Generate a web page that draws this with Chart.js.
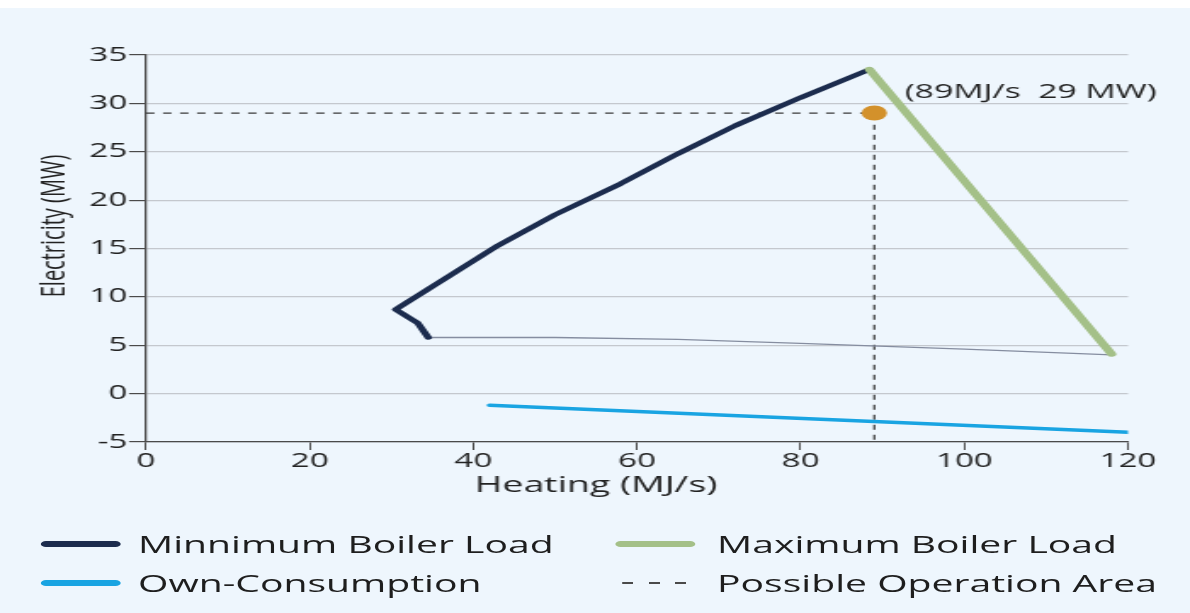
<!DOCTYPE html>
<html>
<head>
<meta charset="utf-8">
<script src="https://cdn.jsdelivr.net/npm/chart.js@4.4.1/dist/chart.umd.min.js"></script>
<style>
  html, body { margin: 0; padding: 0; }
  body {
    width: 1190px; height: 613px; overflow: hidden; position: relative;
    background: #eef6fd; font-family: "Open Sans", sans-serif;
  }
  #band { position: absolute; left: 0; top: 0; width: 1190px; height: 8px; background: #fff; }
  /* the whole figure is drawn narrow and widened horizontally */
  #stage { position: absolute; left: 0; top: 0; width: 700px; height: 613px;
           transform: scaleX(1.7); transform-origin: 0 0; }
  #plot { position: absolute; left: 0; top: 0; width: 700px; height: 510px; }
  .key { position: absolute; height: 30px; display: flex; align-items: center;
         font-size: 23px; color: #1e1e1e; white-space: nowrap; }
  .swatch { position: absolute; height: 6px; border-radius: 3px; }
  .dashes { position: absolute; height: 1.6px;
            background: repeating-linear-gradient(to right, #4a4a4a 0 6.5px, transparent 6.5px 15.6px); }
</style>
</head>
<body>
<div id="band"></div>
<div id="stage">
  <div id="plot"><canvas id="chart"></canvas></div>
  <div id="legend"></div>
</div>
<script>
// Heating (MJ/s) on x, electricity (MW) on y
const heatTicks = [0, 20, 40, 60, 80, 100, 120];
const elecTicks = [-5, 0, 5, 10, 15, 20, 25, 30, 35];

// minimum boiler load curve
const minLoadHeat = [34.5, 33.2, 30.5, 43, 50, 58, 65, 72, 80, 88.4];
const minLoadElec = [5.8, 7.3, 8.7, 15.3, 18.5, 21.7, 24.8, 27.7, 30.6, 33.5];

// maximum boiler load line
const maxLoadHeat = [88.4, 118];
const maxLoadElec = [33.5, 4.1];

// lower boundary of the operating region
const lowerHeat = [34.5, 50, 65, 80, 100, 118];
const lowerElec = [5.8, 5.8, 5.6, 5.2, 4.6, 4.0];

// own consumption
const ownHeat = [42, 120];
const ownElec = [-1.2, -4.0];

// operating point and its guide lines
const opHeat = 89;
const opElec = 29;
const guideHeat = [0, opHeat, opHeat];
const guideElec = [opElec, opElec, -5];

const seriesNames = ['Minnimum Boiler Load', 'Maximum Boiler Load', 'Own-Consumption', 'Possible Operation Area'];

const colors = {
  minLoad: '#1c2c4e',
  maxLoad: '#a4c088',
  own: '#19a4e2',
  lower: '#858da0',
  guide: '#3a3a3a',
  point: '#d3912b',
  grid: '#c4c8ce',
  axis: '#4a4a4a',
  text: '#222222'
};

const pts = (xs, ys) => xs.map((v, i) => ({ x: v, y: ys[i] }));

function buildLegend() {
  const legend = document.getElementById('legend');
  const items = [
    { name: seriesNames[0], color: colors.minLoad, line: [23.5, 47], text: 81.2, row: 544 },
    { name: seriesNames[1], color: colors.maxLoad, line: [361.8, 47], text: 421.8, row: 544 },
    { name: seriesNames[2], color: colors.own, line: [23.5, 47], text: 81.2, row: 583 },
    { name: seriesNames[3], color: null, line: [366, 37.7], text: 421.8, row: 583 }
  ];
  items.forEach(it => {
    const s = document.createElement('div');
    if (it.color) {
      s.className = 'swatch';
      s.style.background = it.color;
      s.style.top = (it.row - 3) + 'px';
    } else {
      s.className = 'dashes';
      s.style.top = (it.row - 0.8) + 'px';
    }
    s.style.left = it.line[0] + 'px';
    s.style.width = it.line[1] + 'px';
    legend.appendChild(s);
    const t = document.createElement('div');
    t.className = 'key';
    t.textContent = it.name;
    t.style.left = it.text + 'px';
    t.style.top = (it.row - 15) + 'px';
    legend.appendChild(t);
  });
}

const titlesPlugin = {
  id: 'titles',
  afterDatasetsDraw(chart) {
    const { ctx, scales: { x, y } } = chart;
    ctx.save();
    ctx.fillStyle = colors.text;
    ctx.textBaseline = 'middle';
    // operating point label
    ctx.font = '19.8px "Open Sans"';
    ctx.textAlign = 'left';
    ctx.fillText('(' + opHeat + 'MJ/s  ' + opElec + ' MW)',
                 x.getPixelForValue(opHeat) + 18, y.getPixelForValue(opElec) - 21);
    // x axis title
    ctx.font = '22px "Open Sans"';
    ctx.textAlign = 'center';
    ctx.fillText('Heating (MJ/s)', 350.6, 486);
    // y axis title
    ctx.translate(32, 226);
    ctx.rotate(-Math.PI / 2);
    ctx.font = '20px "Open Sans"';
    ctx.fillText('Electricity (MW)', 0, 0);
    ctx.restore();
  }
};

function draw() {
  buildLegend();
  const lineSet = (label, data, color, width, order) => ({
    label, data, showLine: true, borderColor: color, backgroundColor: color,
    borderWidth: width, pointRadius: 0, pointHoverRadius: 0,
    borderCapStyle: 'round', borderJoinStyle: 'round', tension: 0, order
  });

  new Chart(document.getElementById('chart'), {
    type: 'scatter',
    data: {
      datasets: [
        { label: 'Operating point', data: pts([opHeat], [opElec]), pointRadius: 7.5,
          pointHoverRadius: 7.5, backgroundColor: colors.point, borderWidth: 0, order: 0 },
        lineSet(seriesNames[1], pts(maxLoadHeat, maxLoadElec), colors.maxLoad, 5.5, 1),
        lineSet(seriesNames[0], pts(minLoadHeat, minLoadElec), colors.minLoad, 4.4, 2),
        lineSet('Lower boundary', pts(lowerHeat, lowerElec), colors.lower, 1.3, 3),
        lineSet(seriesNames[2], pts(ownHeat, ownElec), colors.own, 3.6, 4),
        Object.assign(lineSet(seriesNames[3], pts(guideHeat, guideElec), colors.guide, 1.2, 5),
                      { borderDash: [5, 5], borderCapStyle: 'butt' })
      ]
    },
    options: {
      responsive: true,
      maintainAspectRatio: false,
      animation: false,
      events: [],
      layout: { padding: { left: 0, right: 36.5, top: 55, bottom: 0 } },
      plugins: { legend: { display: false }, tooltip: { enabled: false } },
      scales: {
        x: {
          type: 'linear', min: heatTicks[0], max: heatTicks[heatTicks.length - 1],
          afterBuildTicks: s => { s.ticks = heatTicks.map(v => ({ value: v })); },
          afterFit: s => { s.height = 68; },
          grid: { drawOnChartArea: false, drawTicks: true, tickLength: 8,
                  tickColor: colors.axis, tickWidth: 1 },
          border: { color: colors.axis, width: 1.3 },
          ticks: { color: colors.text, padding: 0, maxRotation: 0,
                   font: { family: 'Open Sans', size: 19.5 } }
        },
        y: {
          type: 'linear', min: elecTicks[0], max: elecTicks[elecTicks.length - 1],
          afterBuildTicks: s => { s.ticks = elecTicks.map(v => ({ value: v })); },
          afterFit: s => { s.width = 85.9; },
          grid: { color: colors.grid, lineWidth: 1.2, drawTicks: true, tickLength: 10,
                  tickColor: colors.axis, tickWidth: 1.2 },
          border: { color: colors.axis, width: 1.3 },
          ticks: { color: colors.text, padding: 1,
                   font: { family: 'Open Sans', size: 19.5 } }
        }
      }
    },
    plugins: [titlesPlugin]
  });
}

if (document.fonts && document.fonts.load) {
  document.fonts.load('19px "Open Sans"').then(draw, draw);
} else {
  draw();
}
</script>
</body>
</html>
